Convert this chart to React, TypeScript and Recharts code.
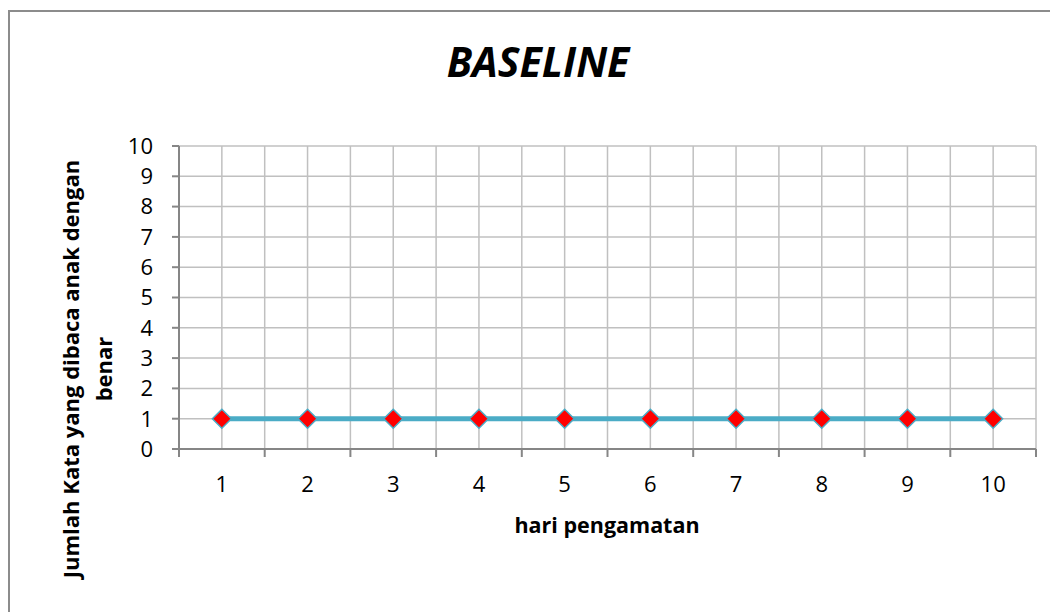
import React from 'react';
import { CartesianGrid, Line, LineChart, XAxis, YAxis } from 'recharts';

const days = [1, 2, 3, 4, 5, 6, 7, 8, 9, 10];
const correctWords = [1, 1, 1, 1, 1, 1, 1, 1, 1, 1];
const yTicks = [0, 1, 2, 3, 4, 5, 6, 7, 8, 9, 10];

const chartTitle = 'BASELINE';
const xTitle = 'hari pengamatan';
const yTitleLines = ['Jumlah Kata yang dibaca anak dengan', 'benar'];

const data = days.map((d, i) => ({ day: d, count: correctWords[i] }));
// grid lines sit on the day centres and on the boundaries between days
const xTicks = days.flatMap((d) => [d - 0.5, d]).concat(days[days.length - 1] + 0.5);

const FONT = '"Open Sans", sans-serif';
const AXIS = '#868686';
const GRID = '#c0c0c0';
const LINE = '#4bacc6';
const TICK_SIZE = 8;
const TICK_MARGIN = 19;

const XTick = (props: any) => {
  const { x, y, payload } = props;
  if (Number.isInteger(payload.value)) {
    return (
      <text x={x} y={y} dy='0.71em' textAnchor='middle' fontSize={22} fill='#000' fontFamily={FONT}>
        {payload.value}
      </text>
    );
  }
  return <line x1={x} x2={x} y1={y - TICK_MARGIN - TICK_SIZE} y2={y - TICK_MARGIN} stroke={AXIS} strokeWidth={2} />;
};

const Diamond = (props: any) => {
  const { cx, cy } = props;
  if (cx == null || cy == null) return null;
  const r = 9.5;
  return (
    <polygon
      points={`${cx},${cy - r} ${cx + r},${cy} ${cx},${cy + r} ${cx - r},${cy}`}
      fill='#ff0000'
      stroke={LINE}
      strokeWidth={1.5}
    />
  );
};

const App = () => {
  return (
    <div style={{ position: 'absolute', left: 0, top: 0, width: 1052, height: 615, fontFamily: FONT }}>
      <div
        style={{
          position: 'absolute',
          left: 8,
          top: 10,
          width: 1040,
          height: 600,
          borderLeft: '2px solid #8c8c8c',
          borderTop: '2px solid #8c8c8c',
        }}
      />
      <div style={{ position: 'absolute', left: 0, top: 0 }}>
        <LineChart width={1052} height={615} data={data} margin={{ top: 146, right: 16, bottom: 126, left: 119 }}>
          <CartesianGrid stroke={GRID} strokeWidth={1.5} />
          <XAxis
            dataKey='day'
            type='number'
            domain={[0.5, 10.5]}
            ticks={xTicks}
            interval={0}
            height={40}
            axisLine={{ stroke: AXIS, strokeWidth: 2 }}
            tickLine={false}
            tickSize={TICK_SIZE}
            tickMargin={TICK_MARGIN}
            tick={<XTick />}
          />
          <YAxis
            domain={[0, 10]}
            ticks={yTicks}
            interval={0}
            width={60}
            axisLine={{ stroke: AXIS, strokeWidth: 2 }}
            tickLine={{ stroke: AXIS, strokeWidth: 2 }}
            tickSize={7}
            tickMargin={19}
            tick={{ fontSize: 22, fill: '#000', fontFamily: FONT }}
          />
          <Line
            dataKey='count'
            stroke={LINE}
            strokeWidth={5}
            dot={<Diamond />}
            activeDot={false}
            isAnimationActive={false}
          />
        </LineChart>
      </div>
      <svg width={1052} height={615} style={{ position: 'absolute', left: 0, top: 0, pointerEvents: 'none' }}>
        <text x={538} y={77} textAnchor='middle' fontSize={41} fontWeight='bold' fontStyle='italic' fontFamily={FONT}>
          {chartTitle}
        </text>
        <text x={607} y={533} textAnchor='middle' fontSize={21.5} fontWeight='bold' fontFamily={FONT}>
          {xTitle}
        </text>
        <g transform='translate(0,369) rotate(-90)'>
          <text x={0} y={79} textAnchor='middle' fontSize={22} fontWeight='bold' fontFamily={FONT}>
            {yTitleLines[0]}
          </text>
          <text x={0} y={112} textAnchor='middle' fontSize={22} fontWeight='bold' fontFamily={FONT}>
            {yTitleLines[1]}
          </text>
        </g>
      </svg>
    </div>
  );
};

export default App;
